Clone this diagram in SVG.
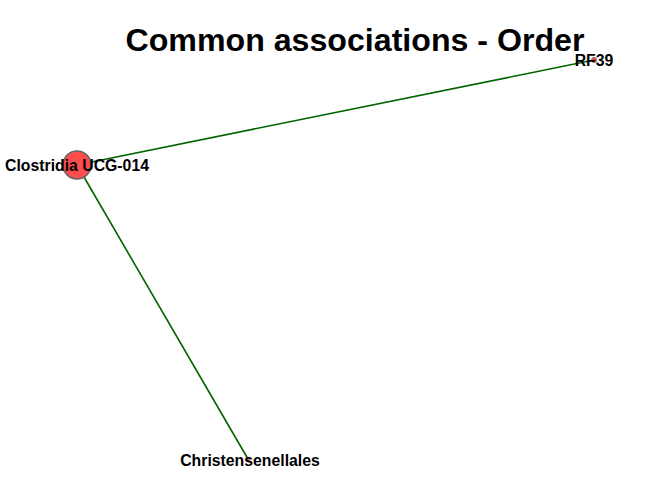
<svg xmlns="http://www.w3.org/2000/svg" width="672" height="480" viewBox="0 0 672 480">
<style>
.edge{stroke:#006400;stroke-width:1.6;fill:none}
.lbl{font-family:"Liberation Sans",Arial,sans-serif;font-weight:bold;font-size:15.8px;fill:#000;text-anchor:middle}
.node{fill:#ff4c4c;stroke:#666;stroke-width:1.5}
</style>
<rect width="672" height="480" fill="#fff"/>
<g id="connectors">
<line class="edge" x1="77" y1="165" x2="594" y2="60"/>
<line class="edge" x1="77" y1="165" x2="248" y2="459"/>
</g>
<g id="node-clostridia">
<circle class="node" cx="77" cy="165" r="14"/>
<text class="lbl" x="77" y="171">Clostridia UCG-014</text>
</g>
<g id="node-rf39">
<circle class="node" cx="594" cy="60" r="2.5" style="stroke-width:1"/>
<text class="lbl" x="594" y="66">RF39</text>
</g>
<g id="node-christensenellales">
<circle class="node" cx="248" cy="459" r="2" style="stroke-width:0.5"/>
<text class="lbl" x="250" y="466">Christensenellales</text>
</g>
<text x="355" y="51" font-family="'Liberation Sans',Arial,sans-serif" font-weight="bold" font-size="31" text-anchor="middle" textLength="459" lengthAdjust="spacingAndGlyphs">Common associations - Order</text>
</svg>
